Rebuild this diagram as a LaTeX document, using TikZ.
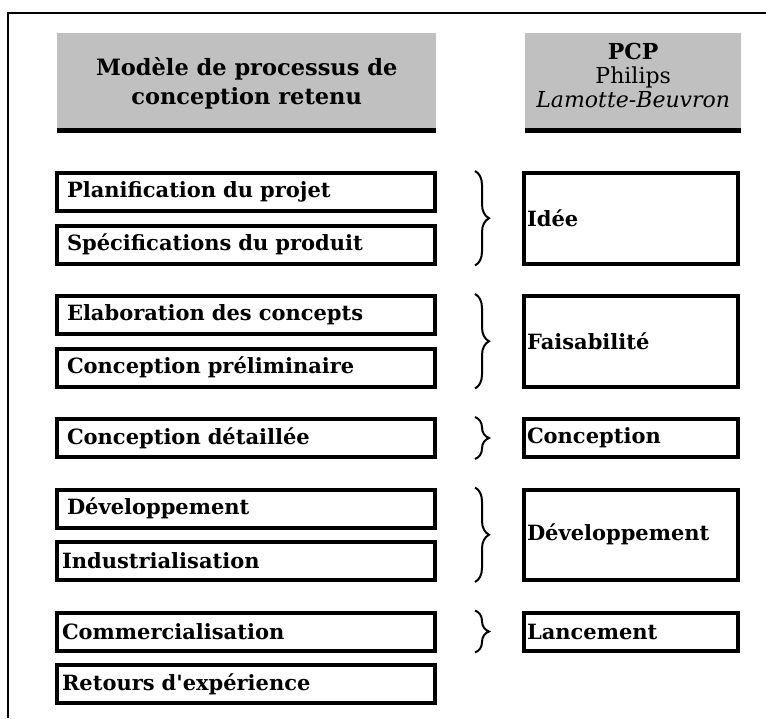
\documentclass[tikz,border=0pt]{standalone}
\usepackage{fontspec}
\setmainfont{DejaVu Serif}[Ligatures=TeXOff]
\usepackage{tikz}
\usetikzlibrary{positioning,decorations.pathreplacing}
\definecolor{headgray}{HTML}{C0C0C0}

\begin{document}
\begin{tikzpicture}[
      x=1pt, y=-1pt,
      node distance=10.5pt and 85pt,
      header/.style={
        fill=headgray, align=center, inner sep=0pt,
        minimum height=100pt
      },
      stage/.style={
        draw, line width=4pt, minimum height=38pt, text width=358pt,
        inner xsep=10pt, align=left, font=\fontsize{21}{24}\selectfont\bfseries
      },
      stagetight/.style={stage, text width=368pt, inner xsep=5pt},
      phase/.style={
        draw, line width=4pt, minimum height=38pt, text width=208pt,
        inner xsep=3pt, align=left, font=\fontsize{21}{24}\selectfont\bfseries
      },
      brace/.style={
        decorate, decoration={brace, amplitude=14pt}, line width=2pt
      }
    ]
    \useasboundingbox (0,0) rectangle (766,718);
    \draw[line width=2.5pt] (8,718) -- (8,13) -- (766,13);

    % headers
    \node[header, minimum width=379pt, anchor=north west,
      font=\fontsize{22.5}{29}\selectfont\bfseries] (model) at (57,33)
      {Modèle de processus de\\conception retenu};
    \node[header, minimum width=216pt, anchor=north west, text depth=15pt,
      font=\fontsize{22}{24}\selectfont] (pcp) at (525,33)
      {\textbf{PCP}\\Philips\\\textit{Lamotte-Beuvron}};
    \draw[line width=5pt] ([yshift=2.5pt]model.south west) -- ([yshift=2.5pt]model.south east);
    \draw[line width=5pt] ([yshift=2.5pt]pcp.south west) -- ([yshift=2.5pt]pcp.south east);

    % stages of the retained model
    \node[stage, anchor=north west] (plan) at (55,171) {Planification du projet};
    \node[stage, below=of plan] (spec) {Spécifications du produit};
    \node[stage, below=28.5pt of spec] (elab) {Elaboration des concepts};
    \node[stage, below=of elab] (prelim) {Conception préliminaire};
    \node[stage, below=28.5pt of prelim] (detail) {Conception détaillée};
    \node[stage, below=28.5pt of detail] (dev) {Développement};
    \node[stagetight, below=of dev] (indus) {Industrialisation};
    \node[stagetight, below=28.5pt of indus] (comm) {Commercialisation};
    \node[stagetight, below=of comm] (retex) {Retours d'expérience};

    % PCP phases
    \node[phase, minimum height=90.5pt, anchor=north west] (idee) at ([xshift=85pt]plan.north east) {Idée};
    \node[phase, minimum height=90.5pt, anchor=north west] (faisa) at ([xshift=85pt]elab.north east) {Faisabilité};
    \node[phase, right=of detail] (concep) {Conception};
    \node[phase, minimum height=90.5pt, anchor=north west] (develop) at ([xshift=85pt]dev.north east) {Développement};
    \node[phase, right=of comm] (lance) {Lancement};

    \draw[brace] ([xshift=38pt]plan.north east) -- ([xshift=38pt]spec.south east);
    \draw[brace] ([xshift=38pt]elab.north east) -- ([xshift=38pt]prelim.south east);
    \draw[brace] ([xshift=38pt]detail.north east) -- ([xshift=38pt]detail.south east);
    \draw[brace] ([xshift=38pt]dev.north east) -- ([xshift=38pt]indus.south east);
    \draw[brace] ([xshift=38pt]comm.north east) -- ([xshift=38pt]comm.south east);
  \end{tikzpicture}
\end{document}
